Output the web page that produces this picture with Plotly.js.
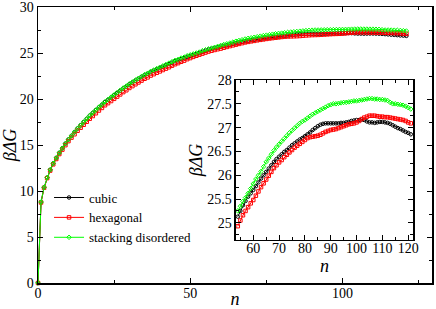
<!DOCTYPE html>
<html>
<head>
<meta charset="utf-8">
<script src="https://cdn.plot.ly/plotly-3.0.1.min.js"></script>
<style>
html,body{margin:0;padding:0;background:#fff;}
#chart{width:436px;height:309px;}
#chart svg text{font-family:"Liberation Serif" !important;}
</style>
</head>
<body>
<div id="chart"></div>
<script>
// cluster size n = 0..121
var nValues = [];
for (var i = 0; i <= 121; i++) nValues.push(i);

var cubic = [
0, 8.8, 10.4, 11.45, 12.3, 13.0, 13.6, 14.15, 14.65, 15.15,
15.6, 16.0, 16.4, 16.8, 17.15, 17.5, 17.85, 18.2, 18.5, 18.8,
19.1, 19.38, 19.67, 19.92, 20.17, 20.42, 20.66, 20.9, 21.15, 21.35,
21.6, 21.8, 22.0, 22.2, 22.4, 22.6, 22.74, 22.93, 23.08, 23.22,
23.37, 23.51, 23.66, 23.8, 23.95, 24.1, 24.2, 24.34, 24.44, 24.59,
24.69, 24.79, 24.89, 25.0, 25.13, 25.25, 25.37, 25.46, 25.55, 25.62,
25.69, 25.77, 25.85, 25.93, 26.0, 26.07, 26.14, 26.21, 26.28, 26.34,
26.39, 26.44, 26.49, 26.53, 26.58, 26.63, 26.67, 26.71, 26.75, 26.78,
26.82, 26.86, 26.9, 26.95, 26.99, 27.03, 27.06, 27.08, 27.09, 27.09,
27.09, 27.09, 27.09, 27.09, 27.1, 27.1, 27.11, 27.12, 27.14, 27.15,
27.16, 27.16, 27.17, 27.16, 27.13, 27.11, 27.11, 27.1, 27.11, 27.12,
27.12, 27.11, 27.1, 27.08, 27.05, 27.02, 26.99, 26.97, 26.94, 26.91,
26.89, 26.86
];

var hexagonal = [
0, 8.75, 10.35, 11.4, 12.22, 12.9, 13.48, 14.02, 14.5, 14.98,
15.42, 15.8, 16.17, 16.55, 16.88, 17.2, 17.53, 17.86, 18.15, 18.45,
18.75, 19.03, 19.32, 19.55, 19.78, 20.02, 20.26, 20.5, 20.75, 20.95,
21.2, 21.4, 21.6, 21.8, 22.0, 22.2, 22.35, 22.55, 22.7, 22.85,
23.0, 23.15, 23.3, 23.45, 23.62, 23.78, 23.9, 24.05, 24.17, 24.33,
24.45, 24.58, 24.7, 24.82, 24.93, 25.05, 25.16, 25.25, 25.33, 25.41,
25.48, 25.57, 25.66, 25.75, 25.83, 25.91, 25.99, 26.07, 26.15, 26.21,
26.27, 26.32, 26.38, 26.43, 26.48, 26.53, 26.58, 26.62, 26.66, 26.7,
26.74, 26.78, 26.8, 26.81, 26.82, 26.83, 26.85, 26.88, 26.91, 26.93,
26.95, 26.96, 26.97, 26.99, 27.01, 27.03, 27.05, 27.07, 27.08, 27.09,
27.11, 27.14, 27.18, 27.21, 27.23, 27.25, 27.25, 27.25, 27.24, 27.23,
27.23, 27.22, 27.22, 27.21, 27.2, 27.19, 27.18, 27.17, 27.16, 27.14,
27.11, 27.09
];

var stackingDisordered = [
0, 8.8, 10.4, 11.45, 12.3, 13.0, 13.6, 14.15, 14.65, 15.15,
15.6, 16.0, 16.4, 16.8, 17.15, 17.5, 17.85, 18.2, 18.5, 18.8,
19.1, 19.4, 19.7, 19.95, 20.2, 20.45, 20.7, 20.95, 21.2, 21.4,
21.65, 21.85, 22.05, 22.25, 22.45, 22.65, 22.8, 23.0, 23.15, 23.3,
23.45, 23.6, 23.75, 23.9, 24.05, 24.2, 24.3, 24.45, 24.55, 24.7,
24.8, 24.9, 25.0, 25.1, 25.25, 25.35, 25.45, 25.53, 25.62, 25.72,
25.82, 25.92, 26.0, 26.08, 26.18, 26.28, 26.36, 26.44, 26.52, 26.59,
26.65, 26.71, 26.77, 26.83, 26.89, 26.94, 26.99, 27.04, 27.09, 27.13,
27.16, 27.2, 27.24, 27.28, 27.31, 27.34, 27.37, 27.4, 27.43, 27.46,
27.48, 27.5, 27.5, 27.51, 27.52, 27.53, 27.53, 27.54, 27.55, 27.56,
27.56, 27.57, 27.58, 27.59, 27.6, 27.61, 27.61, 27.6, 27.6, 27.59,
27.59, 27.58, 27.57, 27.53, 27.5, 27.5, 27.49, 27.48, 27.47, 27.45,
27.42, 27.39
];

var seriesNames = ["cubic", "hexagonal", "stacking disordered"];
var seriesColors = ["#000000", "#ff0000", "#00ff00"];
var seriesSymbols = ["circle-open", "square-open", "diamond-open"];
var seriesData = [cubic, hexagonal, stackingDisordered];

var mainXTicks = [0, 50, 100];
var mainYTicks = [0, 5, 10, 15, 20, 25, 30];
var insetXTicks = [60, 70, 80, 90, 100, 110, 120];
var insetYTicks = [25, 25.5, 26, 26.5, 27, 27.5, 28];
var insetStart = 54;

var FONT = "Liberation Serif";
var traces = [];
for (var s = 0; s < 3; s++) {
  traces.push({
    x: nValues, y: seriesData[s], name: seriesNames[s],
    type: "scatter", mode: "lines+markers", cliponaxis: false,
    line: {color: seriesColors[s], width: 1},
    marker: {symbol: seriesSymbols[s], size: 3.5, color: seriesColors[s], line: {width: 1, color: seriesColors[s]}},
    xaxis: "x", yaxis: "y"
  });
}
for (var s2 = 0; s2 < 3; s2++) {
  var xi = [], yi = [];
  for (var k = 0; k < nValues.length; k++) {
    if (nValues[k] >= insetStart) { xi.push(nValues[k]); yi.push(seriesData[s2][k]); }
  }
  traces.push({
    x: xi, y: yi, name: seriesNames[s2], showlegend: false,
    type: "scatter", mode: "lines+markers",
    line: {color: seriesColors[s2], width: 1},
    marker: {symbol: seriesSymbols[s2], size: 3.5, color: seriesColors[s2], line: {width: 1, color: seriesColors[s2]}},
    xaxis: "x2", yaxis: "y2"
  });
}

function axisBase() {
  return {
    showline: true, linecolor: "#000", linewidth: 1.5, mirror: "ticks",
    ticks: "inside", ticklen: 5, tickwidth: 1, tickcolor: "#000",
    showgrid: false, zeroline: false, ticklabeloverflow: "allow",
    tickfont: {family: FONT, size: 14, color: "#000"},
    tickmode: "array"
  };
}

var xa = axisBase();
xa.range = [0, 129.4]; xa.tickvals = mainXTicks; xa.ticktext = mainXTicks.map(String);
xa.minor = {tickvals: [25, 75, 125], ticklen: 3, ticks: "inside", tickcolor: "#000"};
xa.title = {text: "<i>n</i>", font: {family: FONT, size: 18, color: "#000"}, standoff: 2};
xa.ticklabelstandoff = -3;
xa.domain = [0, 1];

var ya = axisBase();
ya.range = [0, 30]; ya.tickvals = mainYTicks; ya.ticktext = mainYTicks.map(String);
ya.minor = {tickvals: [2.5, 7.5, 12.5, 17.5, 22.5, 27.5], ticklen: 3, ticks: "inside", tickcolor: "#000"};
ya.title = {text: "<i>βΔG</i>", font: {family: FONT, size: 18, color: "#000"}, standoff: 2};
ya.domain = [0, 1];

var xa2 = axisBase();
xa2.range = [53.3, 121.9]; xa2.tickvals = insetXTicks; xa2.ticktext = insetXTicks.map(String);
xa2.minor = {tickvals: [55, 65, 75, 85, 95, 105, 115], ticklen: 3, ticks: "inside", tickcolor: "#000"};
xa2.title = {text: "<i>n</i>", font: {family: FONT, size: 18, color: "#000"}, standoff: 0};
xa2.ticklabelstandoff = -5;
xa2.domain = [0.5025, 0.952]; xa2.anchor = "y2";

var ya2 = axisBase();
ya2.range = [24.64, 28]; ya2.tickvals = insetYTicks; ya2.ticktext = insetYTicks.map(String);
ya2.minor = {tickvals: [24.75, 25.25, 25.75, 26.25, 26.75, 27.25, 27.75], ticklen: 3, ticks: "inside", tickcolor: "#000"};
ya2.title = {text: "<i>βΔG</i>", font: {family: FONT, size: 18, color: "#000"}, standoff: 0};
ya2.domain = [0.1558, 0.7355]; ya2.anchor = "x2";

var layout = {
  width: 436, height: 309,
  font: {family: FONT, size: 14, color: "#000"},
  margin: {l: 38, r: 4, t: 7, b: 26},
  paper_bgcolor: "#fff", plot_bgcolor: "#fff",
  showlegend: true,
  legend: {x: 0.028, y: 0.364, xanchor: "left", yanchor: "top", bgcolor: "rgba(0,0,0,0)",
           font: {family: FONT, size: 13, color: "#000"}, tracegroupgap: 0},
  xaxis: xa, yaxis: ya, xaxis2: xa2, yaxis2: ya2
};

Plotly.newPlot("chart", traces, layout, {displayModeBar: false, staticPlot: true});
</script>
</body>
</html>
